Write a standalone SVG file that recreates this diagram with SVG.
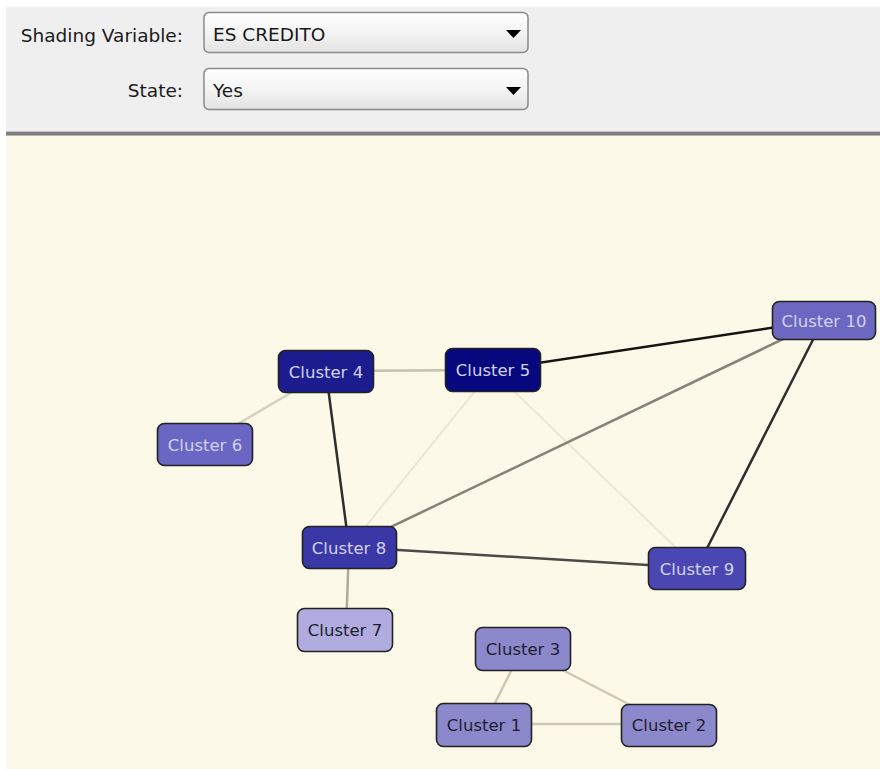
<svg xmlns="http://www.w3.org/2000/svg" width="880" height="769" viewBox="0 0 880 769">
  <defs>
    <linearGradient id="comboFill" x1="0" y1="0" x2="0" y2="1">
      <stop offset="0" stop-color="#ffffff"/>
      <stop offset="0.5" stop-color="#f4f4f4"/>
      <stop offset="1" stop-color="#e2e2e2"/>
    </linearGradient>
  </defs>
  <style>
    .lbl { font-family: "DejaVu Sans", Verdana, sans-serif; font-size: 18.5px; fill: #1a1a1a; }
    .combo { fill: url(#comboFill); stroke: #8a8a8a; stroke-width: 1.5; }
    .node rect { stroke: #222222; stroke-width: 1.6; }
    .node text { font-family: "DejaVu Sans", Verdana, sans-serif; font-size: 16.5px; text-anchor: middle; }
    .light text { fill: #d2d2f0; }
    .dark text { fill: #1e1e2e; }
    .edges line { fill: none; stroke-linecap: round; }
  </style>

  <!-- window background -->
  <rect x="0" y="0" width="880" height="769" fill="#ffffff"/>

  <!-- control panel -->
  <g id="controls">
    <rect x="6" y="7" width="874" height="125" fill="#efefef"/>
    <rect x="6" y="131" width="874" height="1" fill="#c4c4c4"/>
    <rect x="6" y="132" width="874" height="3" fill="#7e7e7e"/>
    <rect x="6" y="135" width="874" height="1" fill="#b4b4b4"/>

    <text class="lbl" x="183" y="42" text-anchor="end">Shading Variable:</text>
    <rect class="combo" x="204" y="12.5" width="324" height="40" rx="5"/>
    <text class="lbl" x="213" y="41">ES CREDITO</text>
    <polygon points="506,30 521,30 513.5,38" fill="#000000"/>

    <text class="lbl" x="183" y="97" text-anchor="end">State:</text>
    <rect class="combo" x="204" y="68.5" width="324" height="41" rx="5"/>
    <text class="lbl" x="213" y="97">Yes</text>
    <polygon points="506,87 521,87 513.5,95" fill="#000000"/>
  </g>

  <!-- graph canvas -->
  <rect x="6" y="136" width="874" height="633" fill="#fdf9e9"/>

  <g id="connectors" class="edges">
    <line id="e5-8" x1="492" y1="370" x2="349" y2="547" stroke="#ece8d6" stroke-width="2"/>
    <line id="e5-9" x1="492" y1="370" x2="697" y2="568" stroke="#ece8d6" stroke-width="2"/>
    <line id="e4-6" x1="326" y1="372" x2="204" y2="444" stroke="#d6d2c0" stroke-width="2.5"/>
    <line id="e4-5" x1="326" y1="371" x2="492" y2="370" stroke="#c6c2b0" stroke-width="2.5"/>
    <line id="e10-8" x1="823" y1="320" x2="349" y2="547" stroke="#85837a" stroke-width="2.5"/>
    <line id="e5-10" x1="492" y1="370" x2="823" y2="320" stroke="#141414" stroke-width="2.5"/>
    <line id="e10-9" x1="823" y1="320" x2="697" y2="568" stroke="#2e2e2e" stroke-width="2.5"/>
    <line id="e4-8" x1="326" y1="372" x2="349" y2="547" stroke="#2e2e2e" stroke-width="2.5"/>
    <line id="e8-9" x1="349" y1="547" x2="697" y2="568" stroke="#4a4a48" stroke-width="2.5"/>
    <line id="e8-7" x1="349" y1="547" x2="346" y2="630" stroke="#aeab9e" stroke-width="2.5"/>
    <line id="e3-1" x1="522" y1="649" x2="484" y2="725" stroke="#cdc9b6" stroke-width="2.5"/>
    <line id="e3-2" x1="522" y1="649" x2="669" y2="725" stroke="#cdc9b6" stroke-width="2.5"/>
    <line id="e1-2" x1="484" y1="724" x2="669" y2="724" stroke="#cdc9b6" stroke-width="2.5"/>
  </g>

  <g id="cluster4" class="node light">
    <rect x="278.5" y="350.5" width="95" height="42" rx="7" fill="#1c1c8e"/>
    <text x="326" y="378">Cluster 4</text>
  </g>
  <g id="cluster5" class="node light">
    <rect x="445.5" y="348.5" width="95" height="43" rx="7" fill="#08087e"/>
    <text x="493" y="376">Cluster 5</text>
  </g>
  <g id="cluster6" class="node light">
    <rect x="157.5" y="423.5" width="95" height="42" rx="7" fill="#6a66c4"/>
    <text x="205" y="451">Cluster 6</text>
  </g>
  <g id="cluster10" class="node light">
    <rect x="772.5" y="301.5" width="103" height="38" rx="7" fill="#6c68c2"/>
    <text x="824" y="327">Cluster 10</text>
  </g>
  <g id="cluster8" class="node light">
    <rect x="302.5" y="526.5" width="94" height="42" rx="7" fill="#3a38a6"/>
    <text x="349" y="554">Cluster 8</text>
  </g>
  <g id="cluster7" class="node dark">
    <rect x="297.5" y="608.5" width="95" height="43" rx="7" fill="#b0ace0"/>
    <text x="345" y="636">Cluster 7</text>
  </g>
  <g id="cluster9" class="node light">
    <rect x="648.5" y="547.5" width="97" height="42" rx="7" fill="#4a46b2"/>
    <text x="697" y="575">Cluster 9</text>
  </g>
  <g id="cluster3" class="node dark">
    <rect x="475.5" y="627.5" width="95" height="43" rx="7" fill="#8c88cc"/>
    <text x="523" y="655">Cluster 3</text>
  </g>
  <g id="cluster1" class="node dark">
    <rect x="436.5" y="703.5" width="95" height="43" rx="7" fill="#8c88cc"/>
    <text x="484" y="731">Cluster 1</text>
  </g>
  <g id="cluster2" class="node dark">
    <rect x="621.5" y="704.5" width="95" height="42" rx="7" fill="#8c88cc"/>
    <text x="669" y="731">Cluster 2</text>
  </g>
</svg>
